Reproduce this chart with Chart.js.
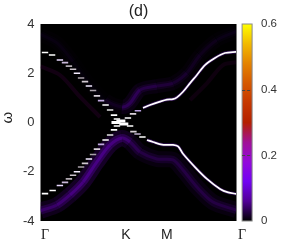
<!DOCTYPE html>
<html>
<head>
<meta charset="utf-8">
<style>
  html, body { margin: 0; padding: 0; background: #fff; }
  #wrap { width: 281px; height: 244px; }
</style>
<script src="https://cdn.jsdelivr.net/npm/chart.js@4"></script>
</head>
<body>
<div id="wrap"><canvas id="spectrum" width="281" height="244"></canvas></div>
<script>
const xTickValues = [0.023, 0.436, 0.645, 1.028];
const xTickLabels = ['Γ', 'K', 'M', 'Γ'];
const yTicks = [-4, -2, 0, 2, 4];
const colorTicks = [0, 0.2, 0.4, 0.6];

// stepped dashes of the bright band, left of K
const upperDashK = [0.023, 0.059, 0.099, 0.125, 0.145, 0.166, 0.186, 0.207, 0.227, 0.247, 0.268, 0.288, 0.309, 0.332, 0.355, 0.375, 0.390];
const upperDashW = [2.84, 2.74, 2.54, 2.43, 2.29, 2.16, 2.00, 1.81, 1.66, 1.48, 1.30, 1.08, 0.89, 0.71, 0.51, 0.30, 0.14];
const lowerDashK = [0.023, 0.062, 0.099, 0.125, 0.145, 0.166, 0.186, 0.207, 0.227, 0.247, 0.268, 0.288, 0.309, 0.332, 0.355, 0.375, 0.390];
const lowerDashW = [-2.89, -2.76, -2.56, -2.43, -2.29, -2.14, -2.00, -1.81, -1.66, -1.48, -1.30, -1.08, -0.89, -0.71, -0.51, -0.30, -0.14];
const dashTones = ['#ffffff', '#ffffff', '#e8d8ff', '#c9b8d8', '#b0a8b0', '#c8c0c8', '#f4ecff', '#aaa0aa', '#d0c8d0', '#f0e8ff', '#a8a0a8', '#d8d0d8', '#c0a8e0', '#ffffff', '#e0e0e0', '#ffffff', '#ffffff'];

// dashes right of K
const rightUpDashK = [0.446, 0.472, 0.497];
const rightUpDashW = [0.18, 0.35, 0.48];
const rightDownDashK = [0.457, 0.474, 0.495, 0.520];
const rightDownDashW = [-0.14, -0.37, -0.47, -0.59];
const centerK = [0.385, 0.410, 0.425];
const centerW = [0, 0.06, -0.06];

// smooth bright band, K to M to Γ
const upperSmoothK = [0.523, 0.559, 0.610, 0.645, 0.676, 0.696, 0.727, 0.763, 0.798, 0.839, 0.890, 0.941, 1.0];
const upperSmoothW = [0.59, 0.71, 0.85, 0.93, 0.95, 1.02, 1.25, 1.60, 1.93, 2.33, 2.62, 2.82, 2.87];
const lowerSmoothK = [0.543, 0.574, 0.620, 0.676, 0.702, 0.727, 0.788, 0.849, 0.916, 0.957, 1.0];
const lowerSmoothW = [-0.71, -0.79, -0.90, -0.91, -0.97, -1.27, -1.81, -2.29, -2.70, -2.84, -2.90];

// purple side bands, with their strength read along the path
const lowerGhostK = [0, 0.084, 0.151, 0.217, 0.288, 0.355, 0.416, 0.457, 0.508, 0.594, 0.676, 0.727, 0.798, 0.880, 1.0];
const lowerGhostW = [-3.58, -3.35, -2.94, -2.42, -1.60, -0.91, -0.63, -0.79, -1.20, -1.48, -1.52, -1.93, -2.62, -3.23, -3.56];
const lowerGhostI = [0.7, 0.8, 0.95, 1, 1, 0.95, 0.8, 0.5, 0.4, 0.4, 0.4, 0.4, 0.4, 0.4, 0.3];
const upperGhostK = [0, 0.084, 0.166, 0.253, 0.329, 0.416, 0.457, 0.508, 0.594, 0.676, 0.747, 0.814, 0.900, 1.0];
const upperGhostW = [3.58, 3.23, 2.46, 1.52, 0.91, 0.63, 0.79, 1.32, 1.48, 1.60, 2.01, 2.74, 3.35, 3.70];
const upperGhostI = [0.15, 0.15, 0.1, 0.1, 0.3, 0.9, 0.9, 0.7, 0.55, 0.45, 0.3, 0.25, 0.2, 0.15];
const faintLeftK = [0, 0.099, 0.202, 0.304];
const faintLeftW = [2.28, 1.93, 1.04, 0.22];
const faintRightK = [0.763, 0.850, 0.931, 1.0];
const faintRightW = [0.91, 1.60, 2.33, 2.45];

// colour bar
const colorBarK = [1.054, 1.054];
const colorBarRange = [0, 0.6];
const colorBarStops = ['#000000', '#510096', '#7202f2', '#9309db', '#a11096', '#b42000', '#c63700', '#d55800', '#e48300', '#f2ba00', '#ffff00'];

const pts = (xs, ys) => xs.map((x, i) => ({ x: x, y: ys[i] }));
const bandClip = { left: 0, top: 0, bottom: 0, right: -16 };

function line(xs, ys, width, color) {
    return {
        data: pts(xs, ys), showLine: true, tension: 0.3, pointRadius: 0,
        borderWidth: width, borderColor: color, clip: bandClip
    };
}

// a side band whose opacity follows the strength list
function band(xs, ys, strength, width, rgb, alpha) {
    const ds = line(xs, ys, width, `rgba(${rgb},${alpha})`);
    ds.segment = { borderColor: ctx => `rgba(${rgb},${alpha * strength[ctx.p0DataIndex]})` };
    return ds;
}

function dashes(xs, ys, tones, radius, thick) {
    return {
        data: pts(xs, ys), showLine: false, pointStyle: 'line', pointRadius: radius,
        pointBorderWidth: thick, pointBorderColor: tones, clip: bandClip
    };
}

const datasets = [
    dashes(centerK, centerW, '#ffffff', 4.5, 3),
    dashes(upperDashK, upperDashW, dashTones, 3.2, 1.6),
    dashes(lowerDashK, lowerDashW, dashTones, 3.2, 1.6),
    dashes(rightUpDashK, rightUpDashW, ['#ffffff', '#d8d0d8', '#b9a0e0'], 3.2, 1.6),
    dashes(rightDownDashK, rightDownDashW, ['#ffffff', '#d8d0d8', '#c0b0d0', '#ffffff'], 3.2, 1.6),
    line(upperSmoothK, upperSmoothW, 1.7, '#ffffff'),
    line(lowerSmoothK, lowerSmoothW, 1.7, '#ffffff'),
    line(upperSmoothK, upperSmoothW, 3.2, 'rgba(110,30,190,0.4)'),
    line(lowerSmoothK, lowerSmoothW, 3.2, 'rgba(110,30,190,0.4)'),
    band(lowerGhostK, lowerGhostW, lowerGhostI, 3, '90,0,165', 0.55),
    band(lowerGhostK, lowerGhostW, lowerGhostI, 8, '75,0,140', 0.5),
    band(lowerGhostK, lowerGhostW, lowerGhostI, 16, '55,0,100', 0.38),
    band(upperGhostK, upperGhostW, upperGhostI, 3, '80,0,150', 0.4),
    band(upperGhostK, upperGhostW, upperGhostI, 7, '60,0,110', 0.35),
    band(upperGhostK, upperGhostW, upperGhostI, 14, '40,0,70', 0.3),
    line(faintLeftK, faintLeftW, 4, 'rgba(45,0,45,0.4)'),
    line(faintRightK, faintRightW, 4, 'rgba(35,0,35,0.4)'),
    {
        data: pts(colorBarK, colorBarRange), yAxisID: 'yBar', showLine: true, pointRadius: 0,
        borderWidth: 10, clip: false,
        borderColor(ctx) {
            const area = ctx.chart.chartArea;
            if (!area) return '#000';
            const g = ctx.chart.ctx.createLinearGradient(0, area.bottom, 0, area.top);
            colorBarStops.forEach((c, i) => g.addColorStop(i / (colorBarStops.length - 1), c));
            return g;
        }
    }
];

const framePlugin = {
    id: 'frame',
    beforeDatasetsDraw(chart) {
        const { ctx, scales: { x, y } } = chart;
        ctx.save();
        ctx.fillStyle = '#000';
        ctx.fillRect(x.getPixelForValue(0), y.top, x.getPixelForValue(1) - x.getPixelForValue(0), y.height);
        ctx.restore();
    },
    afterDatasetsDraw(chart) {
        const { ctx, scales: { x, y, yBar } } = chart;
        const barLeft = x.getPixelForValue(colorBarK[0]) - 5;
        ctx.save();
        ctx.strokeStyle = '#8a8a8a';
        ctx.lineWidth = 1;
        ctx.strokeRect(barLeft, y.top, 10, y.height);
        ctx.strokeStyle = '#444';
        ctx.setLineDash([3, 2]);
        colorTicks.slice(1, 3).forEach(t => {
            const py = Math.round(yBar.getPixelForValue(t)) + 0.5;
            ctx.beginPath();
            ctx.moveTo(barLeft, py);
            ctx.lineTo(barLeft + 10, py);
            ctx.stroke();
        });
        ctx.setLineDash([]);
        ctx.fillStyle = '#222';
        ctx.textAlign = 'center';
        ctx.textBaseline = 'middle';
        ctx.font = '16px "Liberation Sans"';
        ctx.fillText('(d)', x.getPixelForValue(0.5), 12);
        ctx.font = '15px "Liberation Sans"';
        ctx.translate(8, y.getPixelForValue(0.2));
        ctx.rotate(-Math.PI / 2);
        ctx.fillText('ω', 0, 0);
        ctx.restore();
    }
};

new Chart(document.getElementById('spectrum'), {
    type: 'scatter',
    data: { datasets: datasets },
    plugins: [framePlugin],
    options: {
        responsive: false,
        animation: false,
        layout: { padding: { top: 24, bottom: 0, left: 0, right: 0 } },
        plugins: { legend: { display: false }, tooltip: { enabled: false } },
        scales: {
            x: {
                type: 'linear', min: 0, max: 1.079,
                grid: { display: false, drawTicks: false }, border: { display: false },
                afterBuildTicks(scale) { scale.ticks = xTickValues.map(v => ({ value: v })); },
                afterFit(scale) { scale.height = 23; },
                ticks: {
                    autoSkip: false, maxRotation: 0, padding: 6, color: '#222',
                    callback: (v, i) => xTickLabels[i],
                    font: ctx => ({
                        size: 14,
                        family: ctx.tick && ctx.tick.label === 'Γ' ? '"Liberation Serif"' : '"Liberation Sans"'
                    })
                }
            },
            y: {
                min: -4, max: 4,
                grid: { display: false, drawTicks: false }, border: { display: false },
                afterBuildTicks(scale) { scale.ticks = yTicks.map(v => ({ value: v })); },
                afterFit(scale) { scale.width = 40.5; },
                ticks: { padding: 6, color: '#333', font: { size: 13, family: '"Liberation Sans"' } }
            },
            yBar: {
                position: 'right', min: 0, max: 0.6,
                grid: { display: false, drawTicks: false }, border: { display: false },
                afterBuildTicks(scale) { scale.ticks = colorTicks.map(v => ({ value: v })); },
                afterFit(scale) { scale.width = 29; },
                ticks: { padding: 9, color: '#333', font: { size: 11.5, family: '"Liberation Sans"' }, callback: v => String(v) }
            }
        }
    }
});
</script>
</body>
</html>
